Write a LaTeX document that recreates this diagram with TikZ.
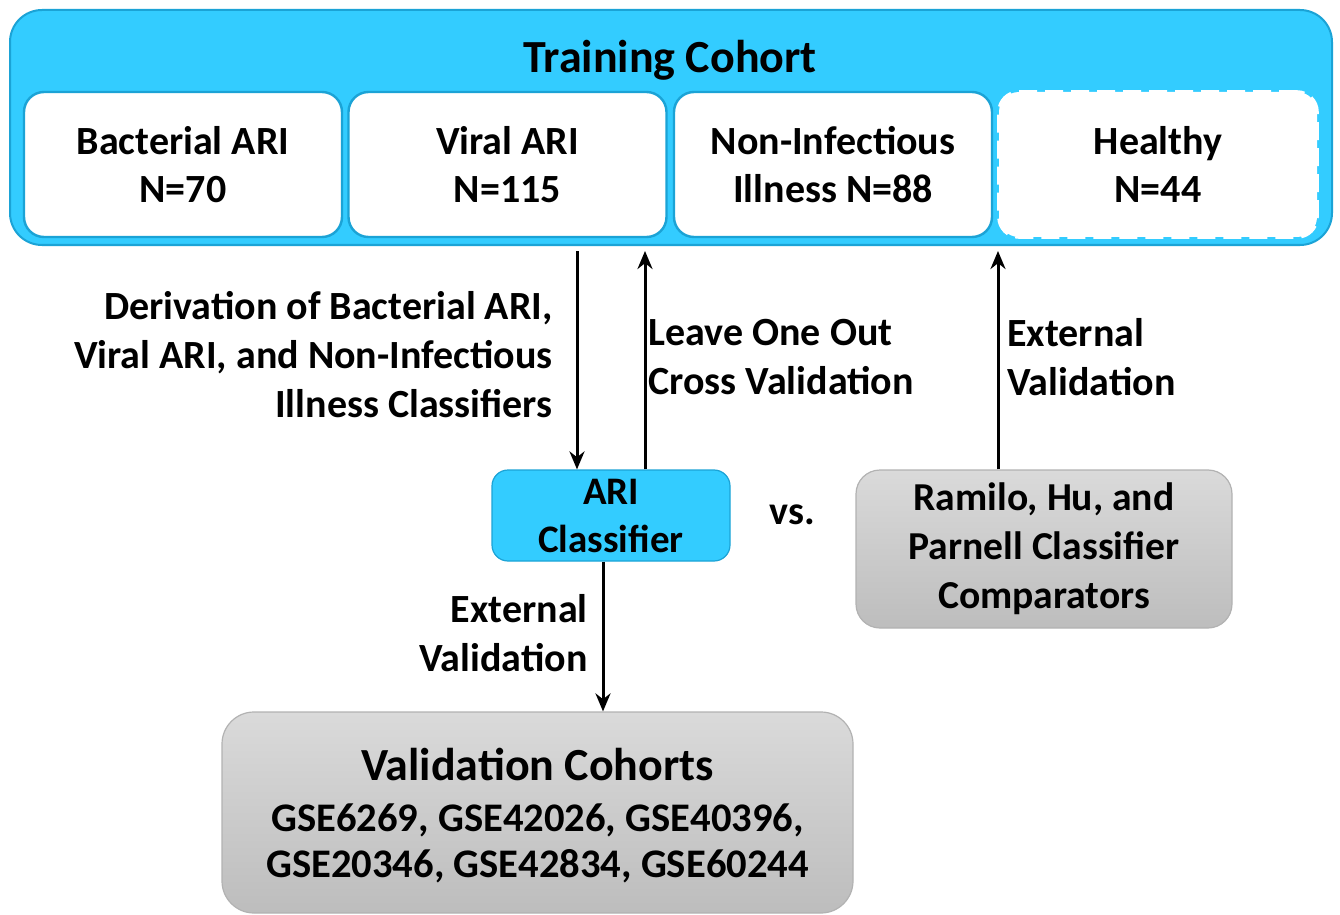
\documentclass[tikz,border=0pt]{standalone}
\usepackage{fontspec}
\setmainfont{Carlito}
\usepackage{tikz}
\usetikzlibrary{positioning,arrows.meta}

\definecolor{ariblue}{HTML}{33CCFF}
\definecolor{edgeblue}{HTML}{1BA3D6}
\definecolor{greytop}{HTML}{DADADA}
\definecolor{greybot}{HTML}{BDBDBD}

\tikzset{
  cohort/.style={draw=edgeblue, line width=1.2pt, fill=white, rounded corners=10pt,
    minimum width=159pt, minimum height=72.5pt, align=center,
    font=\bfseries\fontsize{20}{24}\selectfont},
  greybox/.style={draw=gray!60, line width=0.6pt, top color=greytop, bottom color=greybot,
    rounded corners=12pt, align=center},
  lbl/.style={font=\bfseries\fontsize{20}{24.5}\selectfont, inner sep=0pt},
  arr/.style={-{Stealth[length=9pt,width=7.5pt]}, line width=1.5pt}
}

\begin{document}
\begin{tikzpicture}[x=0.5pt,y=-0.5pt]
\useasboundingbox (0,0) rectangle (1340,915);
\node [draw=edgeblue, line width=1pt, fill=ariblue, rounded corners=16pt,
  minimum width=661pt, minimum height=117.5pt] (train) at (671,127.5) {};
\node [font=\bfseries\fontsize{23}{28}\selectfont] (title) at (670,60) {Training Cohort};

\node [cohort] (bact) at (183,164.5) {Bacterial ARI\\N=70};
\node [cohort] (viral) at (507.5,164.5) {Viral ARI\\N=115};
\node [cohort] (nonin) at (833,164.5) {Non-Infectious\\Illness N=88};
\node [cohort, draw=white, dashed, line width=1.8pt, dash pattern=on 9pt off 4pt] (healthy) at (1158,164.5) {Healthy\\N=44};

\node [draw=edgeblue, line width=0.6pt, fill=ariblue, rounded corners=8pt,
  minimum width=119pt, minimum height=45.5pt, align=center,
  font=\bfseries\fontsize{19.5}{24}\selectfont] (ari) at (611,515.5) {ARI\\Classifier};
\node [lbl] (vs) at (792,515) {vs.};
\node [greybox, minimum width=188pt, minimum height=79pt,
  font=\bfseries\fontsize{19.8}{24.5}\selectfont] (comp) at (1044,549)
  {Ramilo, Hu, and\\Parnell Classifier\\Comparators};
\node [greybox, rounded corners=16pt, minimum width=315.5pt, minimum height=100.5pt,
  font=\bfseries\fontsize{20.3}{23}\selectfont] (valid) at (537.5,812.5) {};
\node [align=center, font=\bfseries\fontsize{20.3}{23}\selectfont] (validtxt) at (537.5,815.5)
  {{\fontsize{23}{28}\selectfont Validation Cohorts}\\[2.5pt]
   GSE6269, GSE42026, GSE40396,\\
   GSE20346, GSE42834, GSE60244};

% connectors
\draw [arr] ([xshift=-17pt,yshift=-2.5pt]train.south -| ari.north) -- ([xshift=-17pt]ari.north);
\draw [arr] ([xshift=17pt]ari.north) -- ([xshift=17pt,yshift=-2.5pt]train.south -| ari.north);
\draw [arr] (comp.north -| 998,0) -- ([yshift=-2.5pt]train.south -| 998,0);
\draw [arr] ([xshift=-4pt]ari.south) -- ([xshift=-4pt]ari.south |- valid.north);

% labels
\node [lbl, align=right, anchor=east] (deriv) at (553,355)
  {Derivation of Bacterial ARI,\\Viral ARI, and Non-Infectious\\Illness Classifiers};
\node [lbl, align=left, anchor=west] (loocv) at (648,357)
  {Leave One Out\\Cross Validation};
\node [lbl, align=left, anchor=west] (extup) at (1007,357)
  {External\\Validation};
\node [lbl, align=right, anchor=east] (extdown) at (588,633)
  {External\\Validation};
\end{tikzpicture}
\end{document}
